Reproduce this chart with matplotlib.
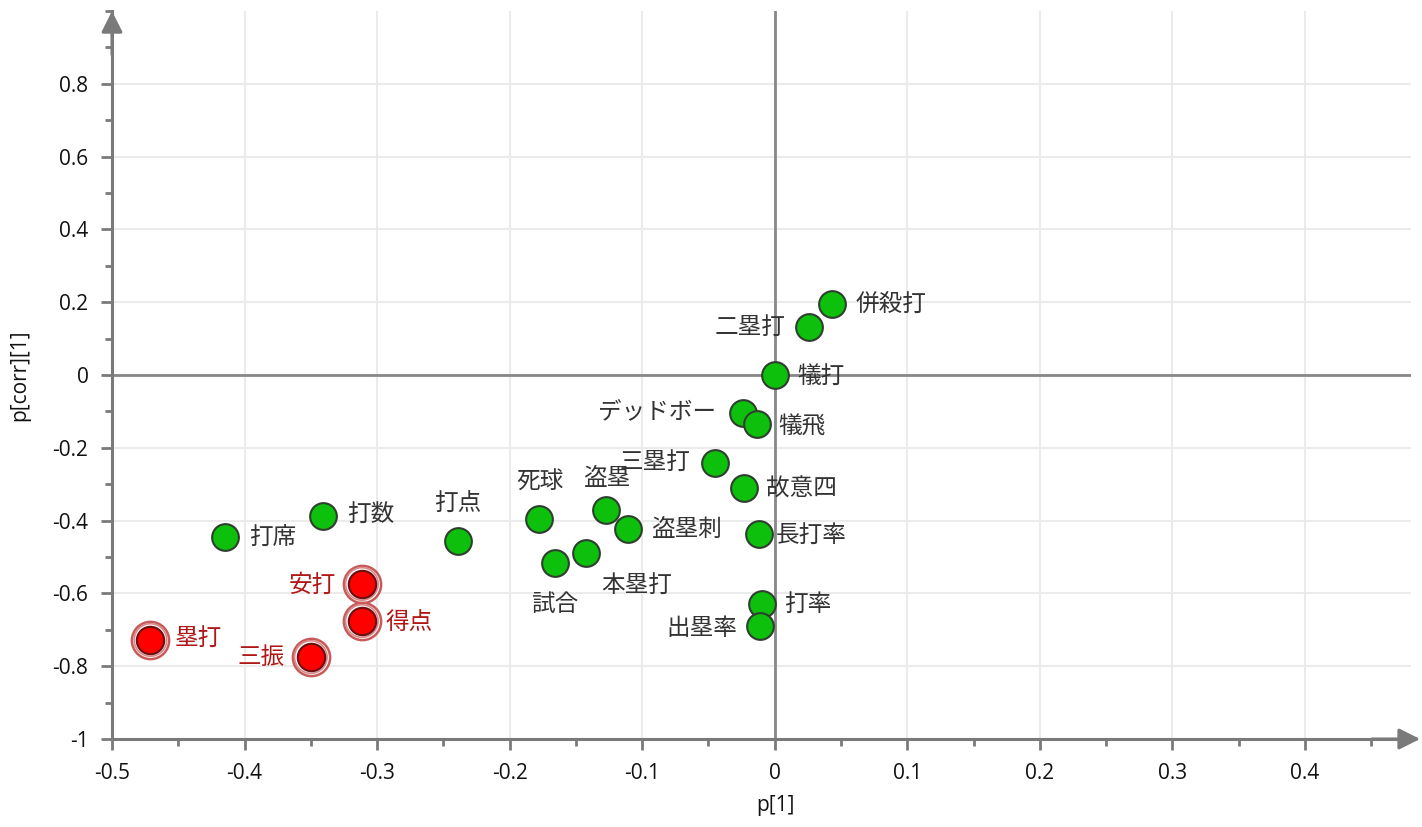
import matplotlib
matplotlib.use("Agg")
import matplotlib.pyplot as plt
import numpy as np
from matplotlib.ticker import MultipleLocator, FixedLocator

plt.rcParams['font.family'] = ['Noto Sans CJK JP', 'DejaVu Sans']

# ---- data ----
green_names = ['併殺打', '二塁打', '犠打', 'デッドボー', '犠飛', '三塁打', '故意四', '長打率',
               '打率', '出塁率', '盗塁', '盗塁刺', '死球', '本塁打', '試合', '打点', '打数', '打席']
green_p1 = [0.043, 0.026, 0.000, -0.024, -0.0136, -0.045, -0.023, -0.012,
            -0.0098, -0.011, -0.127, -0.111, -0.178, -0.1425, -0.166, -0.239, -0.341, -0.415]
green_pcorr = [0.195, 0.132, 0.000, -0.104, -0.135, -0.242, -0.310, -0.437,
               -0.629, -0.690, -0.371, -0.423, -0.396, -0.489, -0.516, -0.456, -0.387, -0.445]

red_names = ['安打', '得点', '塁打', '三振']
red_p1 = [-0.3115, -0.3115, -0.471, -0.350]
red_pcorr = [-0.574, -0.676, -0.728, -0.775]

x_ticks = [-0.5, -0.4, -0.3, -0.2, -0.1, 0, 0.1, 0.2, 0.3, 0.4]
x_ticklabels = ['-0.5', '-0.4', '-0.3', '-0.2', '-0.1', '0', '0.1', '0.2', '0.3', '0.4']
y_ticks = [0.8, 0.6, 0.4, 0.2, 0, -0.2, -0.4, -0.6, -0.8, -1]
y_ticklabels = ['0.8', '0.6', '0.4', '0.2', '0', '-0.2', '-0.4', '-0.6', '-0.8', '-1']

# label placement (pixel offsets, alignment)
green_offsets = {
    '併殺打': (24, 0, 'left'), '二塁打': (-24, 0, 'right'), '犠打': (23, -1, 'left'),
    'デッドボー': (-27, 0, 'right'), '犠飛': (22, -3, 'left'), '三塁打': (-25, 1, 'right'),
    '故意四': (22, -1, 'left'), '長打率': (17, -1, 'left'), '打率': (22, 0, 'left'),
    '出塁率': (-23, -2, 'right'), '盗塁': (1, 32, 'center'), '盗塁刺': (24, -1, 'left'),
    '死球': (1, 37, 'center'), '本塁打': (15, -32, 'left'), '試合': (0, -42, 'center'),
    '打点': (0, 38, 'center'), '打数': (24, 1, 'left'), '打席': (24, -1, 'left'),
}
red_offsets = {
    '安打': (-26, -1, 'right'), '得点': (24, -1, 'left'),
    '塁打': (24, 2, 'left'), '三振': (-26, 0, 'right'),
}

fig = plt.figure(figsize=(14.22, 8.27), dpi=100)
ax = fig.add_axes([112 / 1422, 1 - 739 / 827, (1411 - 112) / 1422, (739 - 11) / 827])
ax.set_xlim(-0.5, 0.48)
ax.set_ylim(-1.0, 1.0)

axis_col = '#7a7a7a'
for s in ['top', 'right']:
    ax.spines[s].set_visible(False)
for s in ['left', 'bottom']:
    ax.spines[s].set_color(axis_col)
    ax.spines[s].set_linewidth(2.2)

ax.xaxis.set_major_locator(FixedLocator(x_ticks))
ax.set_xticklabels(x_ticklabels)
ax.yaxis.set_major_locator(FixedLocator(y_ticks))
ax.set_yticklabels(y_ticklabels)
ax.xaxis.set_minor_locator(MultipleLocator(0.05))
ax.yaxis.set_minor_locator(MultipleLocator(0.1))
ax.tick_params(which='major', length=8, width=2, color=axis_col, labelsize=15,
               labelcolor='#111111', pad=9)
ax.tick_params(which='minor', length=5, width=2, color=axis_col)
for lab in ax.get_xticklabels() + ax.get_yticklabels():
    lab.set_family(['Open Sans', 'DejaVu Sans'])

ax.grid(True, which='major', color='#ebebeb', lw=1.5, zorder=0)
ax.set_axisbelow(True)

ax.axhline(0, color='#888888', lw=2, zorder=1)
ax.axvline(0, color='#888888', lw=2, zorder=1)

# arrows
ax.annotate('', xy=(0, 1.0), xycoords='axes fraction', xytext=(0, 0.94),
            arrowprops=dict(arrowstyle='-|>', color=axis_col, lw=2.2, mutation_scale=32,
                            shrinkA=0, shrinkB=0), annotation_clip=False)
ax.annotate('', xy=(1.007, 0), xycoords='axes fraction', xytext=(0.97, 0),
            arrowprops=dict(arrowstyle='-|>', color=axis_col, lw=2.2, mutation_scale=32,
                            shrinkA=0, shrinkB=0), annotation_clip=False)

# points
ax.scatter(green_p1, green_pcorr, s=370, c='#0cc00c', edgecolors='#2f3f2f',
           linewidths=1.5, zorder=4)
ax.scatter(red_p1, red_pcorr, s=720, facecolors='white', edgecolors='#c85a5a',
           linewidths=1.8, zorder=3)
ax.scatter(red_p1, red_pcorr, s=550, facecolors='none', edgecolors='#d88a8a',
           linewidths=1.2, zorder=3)
ax.scatter(red_p1, red_pcorr, s=390, c='#ff0000', edgecolors='#6a1010',
           linewidths=1.5, zorder=4)

for n, x, y in zip(green_names, green_p1, green_pcorr):
    dx, dy, ha = green_offsets[n]
    ax.annotate(n, (x, y), xytext=(dx, dy), textcoords='offset pixels', ha=ha,
                va='center', fontsize=17, color='#333333', zorder=5)
for n, x, y in zip(red_names, red_p1, red_pcorr):
    dx, dy, ha = red_offsets[n]
    ax.annotate(n, (x, y), xytext=(dx, dy), textcoords='offset pixels', ha=ha,
                va='center', fontsize=17, color='#b01818', zorder=5)

fig.text(20 / 1422, 1 - 375 / 827, 'p[corr][1]', rotation=90, ha='center', va='center',
         fontsize=15, color='#111111', family=['Open Sans', 'DejaVu Sans'])
fig.text(775 / 1422, 1 - 806 / 827, 'p[1]', ha='center', va='center',
         fontsize=15, color='#111111', family=['Open Sans', 'DejaVu Sans'])

fig.savefig('out.png', dpi=100)
